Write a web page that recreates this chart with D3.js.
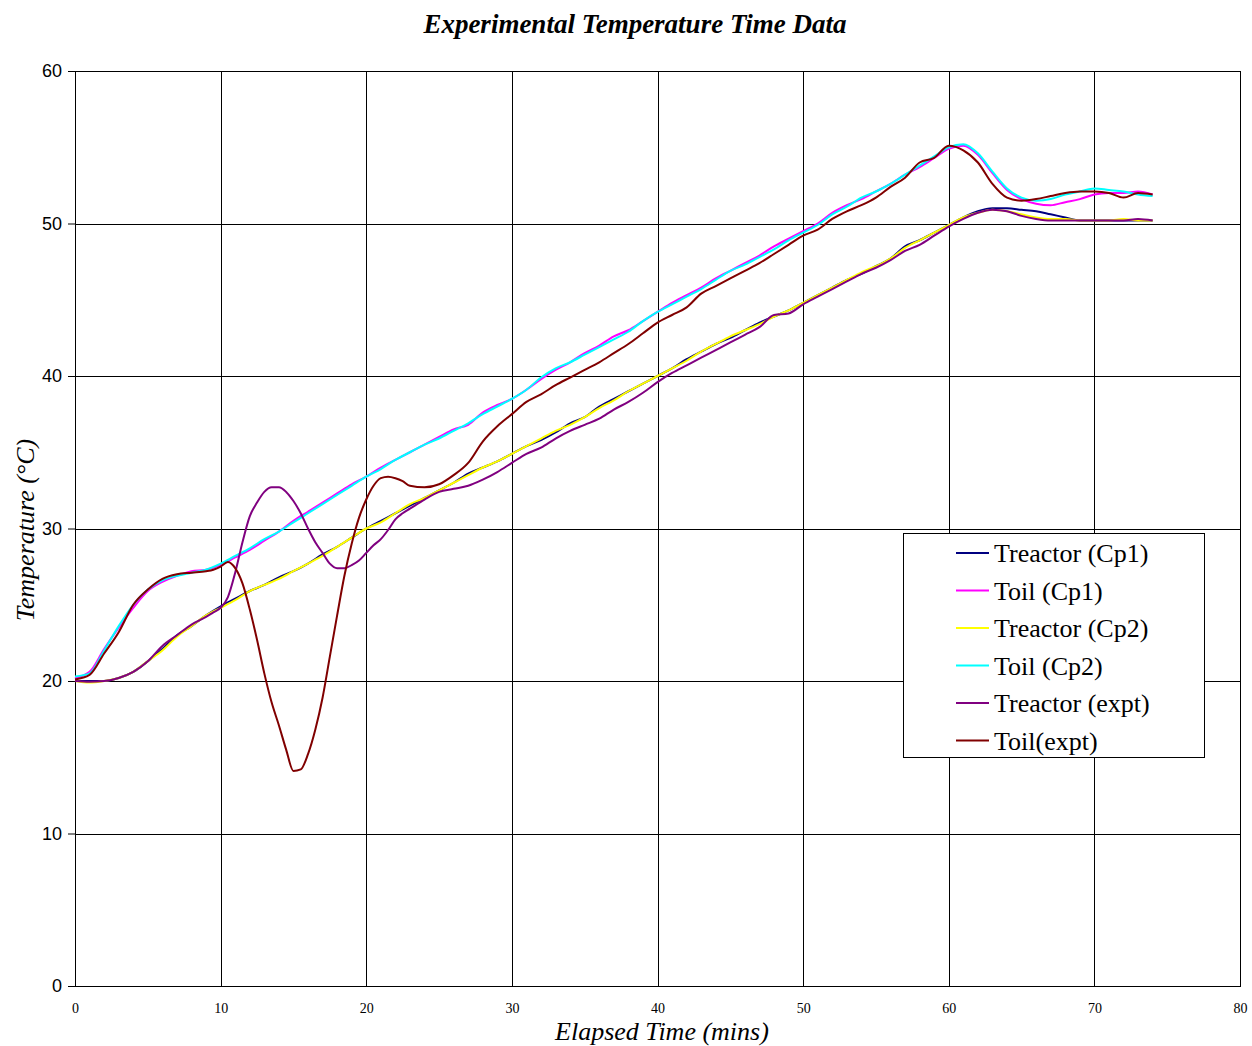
<!DOCTYPE html>
<html>
<head>
<meta charset="utf-8">
<script src="https://cdn.jsdelivr.net/npm/d3@7"></script>
<style>
  body { margin: 0; background: #fff; }
  .grid line { stroke: #000; shape-rendering: crispEdges; }
  .grid path { display: none; }
  .line { fill: none; stroke-width: 2px; }
</style>
</head>
<body>
<div id="chart"></div>
<script>
// time axes (minutes); the expt runs are sampled more closely through the oscillation
var minutes = d3.range(0, 75);
var minutesExpt = d3.range(0, 9).concat(d3.range(9, 23.5, 0.5)).concat(d3.range(24, 75));

var treactorCp1 = [20.0, 20.0, 20.0, 20.2, 20.6, 21.3, 22.1, 23.0, 23.6, 24.3,
  24.9, 25.4, 25.9, 26.3, 26.8, 27.2, 27.7, 28.3, 28.8, 29.4,
  30.0, 30.5, 31.0, 31.5, 32.0, 32.5, 33.0, 33.6, 34.0, 34.4,
  34.9, 35.4, 35.8, 36.3, 36.9, 37.3, 38.0, 38.5, 39.0, 39.5,
  40.0, 40.5, 41.1, 41.6, 42.1, 42.5, 43.0, 43.5, 43.9, 44.3,
  44.8, 45.3, 45.8, 46.3, 46.7, 47.2, 47.7, 48.5, 48.9, 49.4,
  49.9, 50.4, 50.8, 51.0, 51.0, 50.9, 50.8, 50.6, 50.4, 50.2,
  50.2, 50.2, 50.2, 50.2, 50.2];

var toilCp1 = [20.2, 20.6, 22.1, 23.5, 24.8, 25.9, 26.5, 26.9, 27.2, 27.3,
  27.6, 28.1, 28.6, 29.2, 29.8, 30.5, 31.1, 31.7, 32.3, 32.9,
  33.4, 34.0, 34.5, 35.0, 35.5, 36.0, 36.5, 36.8, 37.6, 38.1,
  38.5, 39.1, 39.8, 40.4, 40.9, 41.5, 42.0, 42.6, 43.0, 43.6,
  44.2, 44.8, 45.3, 45.8, 46.4, 46.9, 47.4, 47.9, 48.5, 49.0,
  49.5, 50.0, 50.7, 51.2, 51.6, 52.1, 52.6, 53.2, 53.7, 54.3,
  54.9, 55.1, 54.5, 53.3, 52.2, 51.6, 51.3, 51.2, 51.4, 51.6,
  51.9, 52.0, 52.0, 52.1, 51.9];

var treactorCp2 = [20.0, 19.9, 20.0, 20.2, 20.6, 21.3, 22.0, 22.9, 23.6, 24.3,
  24.8, 25.3, 25.9, 26.3, 26.7, 27.2, 27.7, 28.2, 28.8, 29.4,
  30.0, 30.4, 31.0, 31.6, 32.0, 32.5, 33.0, 33.5, 34.0, 34.4,
  34.9, 35.4, 35.9, 36.4, 36.8, 37.3, 37.9, 38.4, 39.0, 39.5,
  40.0, 40.5, 41.0, 41.6, 42.1, 42.6, 43.0, 43.4, 43.9, 44.3,
  44.8, 45.3, 45.8, 46.3, 46.8, 47.2, 47.7, 48.4, 48.9, 49.4,
  49.9, 50.4, 50.7, 50.9, 50.8, 50.6, 50.4, 50.3, 50.3, 50.2,
  50.2, 50.2, 50.3, 50.2, 50.2];

var toilCp2 = [20.3, 20.5, 22.0, 23.6, 25.0, 26.0, 26.6, 26.9, 27.1, 27.3,
  27.7, 28.2, 28.7, 29.3, 29.8, 30.4, 31.0, 31.6, 32.2, 32.8,
  33.4, 33.9, 34.5, 35.0, 35.5, 35.9, 36.4, 36.9, 37.5, 38.0,
  38.5, 39.1, 39.9, 40.5, 40.9, 41.4, 41.9, 42.4, 42.9, 43.6,
  44.2, 44.7, 45.2, 45.7, 46.3, 46.9, 47.3, 47.8, 48.3, 48.9,
  49.4, 49.9, 50.6, 51.1, 51.7, 52.1, 52.6, 53.2, 53.8, 54.4,
  55.0, 55.2, 54.6, 53.4, 52.3, 51.7, 51.5, 51.6, 51.9, 52.1,
  52.3, 52.2, 52.1, 51.9, 51.8];

var treactorExpt = [20.0, 19.95, 20.0, 20.2, 20.6, 21.3, 22.3, 23.0, 23.7,
  24.2, 24.5, 24.8, 25.5, 27.1, 29.1, 30.8, 31.7, 32.4, 32.7,
  32.7, 32.4, 31.8, 31.0, 30.0, 29.1, 28.4, 27.7, 27.4, 27.4,
  27.6, 27.9, 28.4, 28.9, 29.3, 29.9, 30.6, 31.0, 31.3,
  31.9, 32.4, 32.6, 32.8, 33.2, 33.7, 34.3, 34.9, 35.3, 35.9,
  36.4, 36.8, 37.2, 37.8, 38.3, 38.9, 39.6, 40.2, 40.7, 41.2,
  41.7, 42.2, 42.7, 43.2, 44.0, 44.1, 44.7, 45.2, 45.7, 46.2,
  46.7, 47.1, 47.6, 48.2, 48.6, 49.2, 49.8, 50.3, 50.7, 50.9,
  50.8, 50.5, 50.3, 50.2, 50.2, 50.2, 50.2, 50.2, 50.2, 50.3, 50.2];

var toilExpt = [20.1, 20.4, 21.8, 23.2, 25.0, 26.0, 26.7, 27.0, 27.1,
  27.2, 27.3, 27.5, 27.8, 27.4, 26.4, 24.7, 22.7, 20.5, 18.6,
  17.1, 15.5, 14.1, 14.2, 15.2, 16.8, 18.9, 21.6, 24.3, 26.9,
  29.0, 30.7, 31.9, 32.8, 33.3, 33.4, 33.3, 33.1, 32.8,
  32.7, 32.9, 33.5, 34.3, 35.7, 36.7, 37.5, 38.3, 38.8, 39.4,
  39.9, 40.4, 40.9, 41.5, 42.1, 42.8, 43.5, 44.0, 44.5, 45.4,
  45.9, 46.4, 46.9, 47.4, 48.0, 48.6, 49.2, 49.6, 50.3, 50.8,
  51.2, 51.7, 52.4, 53.0, 54.0, 54.3, 55.1, 54.8, 54.0, 52.6,
  51.7, 51.5, 51.6, 51.8, 52.0, 52.1, 52.1, 52.0, 51.7, 52.0, 51.9];

var seriesNames = ["Treactor (Cp1)", "Toil (Cp1)", "Treactor (Cp2)", "Toil (Cp2)", "Treactor (expt)", "Toil(expt)"];
var seriesColors = ["#000080", "#ff00ff", "#ffff00", "#00ffff", "#800080", "#800000"];

var xTicks = [0, 10, 20, 30, 40, 50, 60, 70, 80];
var yTicks = [0, 10, 20, 30, 40, 50, 60];

var series = [
  { name: seriesNames[0], color: seriesColors[0], t: minutes, v: treactorCp1 },
  { name: seriesNames[1], color: seriesColors[1], t: minutes, v: toilCp1 },
  { name: seriesNames[2], color: seriesColors[2], t: minutes, v: treactorCp2 },
  { name: seriesNames[3], color: seriesColors[3], t: minutes, v: toilCp2 },
  { name: seriesNames[4], color: seriesColors[4], t: minutesExpt, v: treactorExpt },
  { name: seriesNames[5], color: seriesColors[5], t: minutesExpt, v: toilExpt }
];

// dimensions
var width = 1252;
var height = 1046;
var margin = { top: 71, right: 12, bottom: 60, left: 75 };
var w = width - margin.left - margin.right;
var h = height - margin.top - margin.bottom;

var svg = d3.select("#chart")
    .append("svg")
    .attr("width", width)
    .attr("height", height);

var g = svg.append("g")
    .attr("transform", "translate(" + margin.left + "," + margin.top + ")");

var x = d3.scaleLinear().domain([0, 80]).range([0, w]);
var y = d3.scaleLinear().domain([0, 60]).range([h, 0]);

// gridlines
g.append("g")
    .attr("class", "grid")
    .call(d3.axisLeft(y).tickValues(yTicks).tickSize(-w).tickFormat(""));

g.append("g")
    .attr("class", "grid")
    .attr("transform", "translate(0," + h + ")")
    .call(d3.axisBottom(x).tickValues(xTicks).tickSize(-h).tickFormat(""));

// frame
g.append("rect")
    .attr("width", w)
    .attr("height", h)
    .attr("fill", "none")
    .attr("stroke", "#000")
    .attr("shape-rendering", "crispEdges");

// y axis
var yAxis = g.append("g")
    .call(d3.axisLeft(y).tickValues(yTicks).tickSize(7).tickPadding(6));
yAxis.select(".domain").attr("stroke", "#000");
yAxis.selectAll("text")
    .attr("font-family", "Liberation Sans, Arial, sans-serif")
    .attr("font-size", "18px")
    .attr("fill", "#000");

// x axis
var xAxis = g.append("g")
    .attr("transform", "translate(0," + h + ")")
    .call(d3.axisBottom(x).tickValues(xTicks).tickSize(0).tickPadding(17));
xAxis.select(".domain").attr("stroke", "#000");
xAxis.selectAll("text")
    .attr("font-family", "Liberation Serif, Times New Roman, serif")
    .attr("font-size", "14px")
    .attr("fill", "#000");

// lines
var line = d3.line()
    .x(function(d) { return x(d[0]); })
    .y(function(d) { return y(d[1]); })
    .curve(d3.curveMonotoneX);

series.forEach(function(s) {
  g.append("path")
      .datum(d3.zip(s.t, s.v))
      .attr("class", "line")
      .attr("stroke", s.color)
      .attr("d", line);
});

// titles
svg.append("text")
    .attr("x", 635)
    .attr("y", 33)
    .attr("text-anchor", "middle")
    .attr("font-family", "Liberation Serif, Times New Roman, serif")
    .attr("font-style", "italic")
    .attr("font-weight", "bold")
    .attr("font-size", "27px")
    .text("Experimental Temperature Time Data");

svg.append("text")
    .attr("x", 662)
    .attr("y", 1040)
    .attr("text-anchor", "middle")
    .attr("font-family", "Liberation Serif, Times New Roman, serif")
    .attr("font-style", "italic")
    .attr("font-size", "26px")
    .text("Elapsed Time (mins)");

svg.append("text")
    .attr("transform", "translate(34,530) rotate(-90)")
    .attr("text-anchor", "middle")
    .attr("font-family", "Liberation Serif, Times New Roman, serif")
    .attr("font-style", "italic")
    .attr("font-size", "26px")
    .text("Temperature (°C)");

// legend
var legend = svg.append("g")
    .attr("transform", "translate(903,533)");

legend.append("rect")
    .attr("width", 301)
    .attr("height", 224)
    .attr("fill", "#fff")
    .attr("stroke", "#000")
    .attr("shape-rendering", "crispEdges");

var item = legend.selectAll(".item")
    .data(series)
    .enter().append("g")
    .attr("class", "item")
    .attr("transform", function(d, i) { return "translate(0," + (20 + i * 37.5) + ")"; });

item.append("line")
    .attr("x1", 53)
    .attr("x2", 86)
    .attr("stroke", function(d) { return d.color; })
    .attr("stroke-width", 2);

item.append("text")
    .attr("x", 91)
    .attr("dy", "0.35em")
    .attr("font-family", "Liberation Serif, Times New Roman, serif")
    .attr("font-size", "26px")
    .text(function(d) { return d.name; });
</script>
</body>
</html>
